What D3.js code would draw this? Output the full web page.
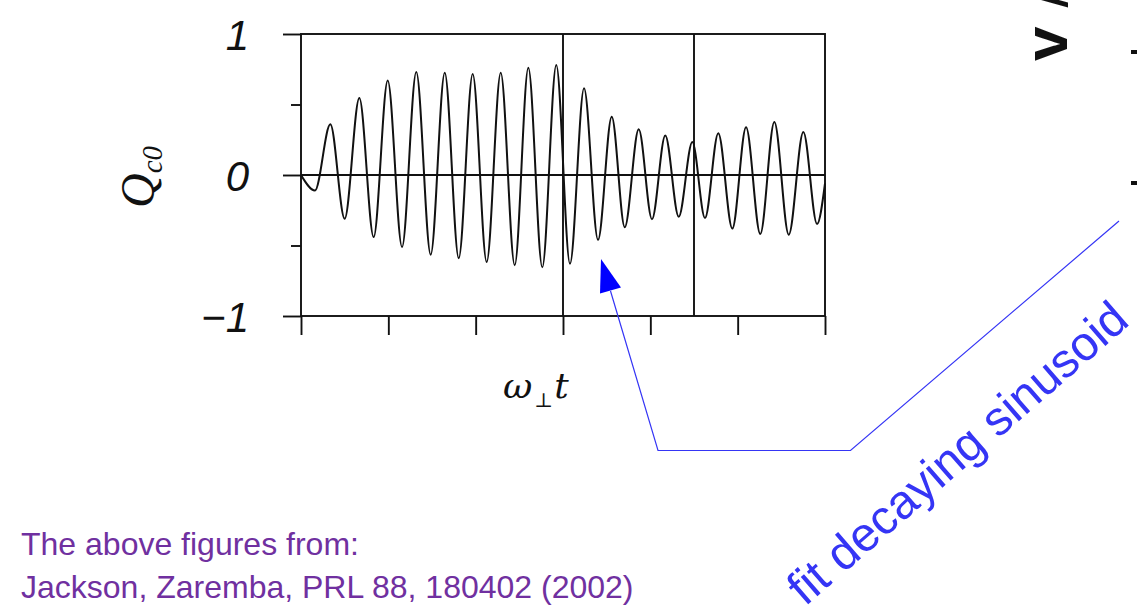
<!DOCTYPE html>
<html>
<head>
<meta charset="utf-8">
<script src="https://cdn.jsdelivr.net/npm/d3@7"></script>
<style>
  body { margin: 0; background: #fff; }
  svg { display: block; }
</style>
</head>
<body>
<div id="chart-area"></div>
<script>
// extrema of Q_c0 (time in tick units, 0..6)
var tPts = [0, 0.16, 0.336, 0.5, 0.668, 0.832, 0.993, 1.157, 1.32, 1.485, 1.646, 1.806, 1.966, 2.126,
  2.287, 2.447, 2.603, 2.763, 2.923, 3.08, 3.241, 3.401, 3.558, 3.707, 3.867, 4.019, 4.171, 4.325,
  4.481, 4.626, 4.778, 4.939, 5.096, 5.259, 5.42, 5.585, 5.752, 5.909, 6]
var qPts = [0, -0.11, 0.36, -0.31, 0.546, -0.44, 0.67, -0.51, 0.73, -0.565, 0.726, -0.59, 0.716, -0.617,
  0.726, -0.64, 0.76, -0.655, 0.78, -0.63, 0.615, -0.46, 0.414, -0.37, 0.324, -0.314, 0.28, -0.296,
  0.234, -0.305, 0.296, -0.38, 0.338, -0.418, 0.376, -0.423, 0.305, -0.348, -0.06]
var xTicks = [0, 1, 2, 3, 4, 5, 6]
var yMajor = [1, 0, -1]
var yMinor = [0.5, -0.5]
var yTickLabels = ["1", "0", "\u22121"]
var markerT = [3, 4.5]

var W = 1137, H = 608
var svg = d3.select("#chart-area").append("svg")
  .attr("width", W).attr("height", H)
svg.append("rect").attr("width", W).attr("height", H).attr("fill", "#fff")

var plot = {left: 301, right: 825, top: 34, bottom: 316}
var x = d3.scaleLinear().domain([0, 6]).range([plot.left, plot.right])
var y = d3.scaleLinear().domain([-1, 1]).range([plot.bottom, plot.top])
var ink = "#111"
var sw = 1.9

// frame
svg.append("rect")
  .attr("x", plot.left).attr("y", plot.top)
  .attr("width", plot.right - plot.left).attr("height", plot.bottom - plot.top)
  .attr("fill", "none").attr("stroke", ink).attr("stroke-width", sw)

// y axis, major ticks with labels
var leftAxis = d3.axisLeft(y).tickValues(yMajor).tickSizeInner(18).tickSizeOuter(0)
  .tickPadding(34).tickFormat((d, i) => yTickLabels[i])
var gy = svg.append("g").attr("transform", `translate(${plot.left},0)`).call(leftAxis)
gy.select(".domain").remove()
gy.selectAll("line").attr("stroke", ink).attr("stroke-width", sw)
gy.selectAll("text")
  .attr("font-family", "Liberation Sans, Arial, sans-serif")
  .attr("font-style", "italic").attr("font-size", "42px").attr("fill", ink)
  .attr("dy", "0.36em")

// minor y ticks
var minorAxis = d3.axisLeft(y).tickValues(yMinor).tickSize(10).tickFormat("")
var gm = svg.append("g").attr("transform", `translate(${plot.left},0)`).call(minorAxis)
gm.select(".domain").remove()
gm.selectAll("line").attr("stroke", ink).attr("stroke-width", sw)

// x axis ticks (no labels)
var bottomAxis = d3.axisBottom(x).tickValues(xTicks).tickSize(19).tickFormat("")
var gx = svg.append("g").attr("transform", `translate(0,${plot.bottom})`).call(bottomAxis)
gx.select(".domain").remove()
gx.selectAll("line").attr("stroke", ink).attr("stroke-width", sw)

// zero line
svg.append("line")
  .attr("x1", plot.left).attr("x2", plot.right)
  .attr("y1", y(0)).attr("y2", y(0))
  .attr("stroke", ink).attr("stroke-width", sw)

// vertical marker lines
svg.selectAll(".marker").data(markerT).enter().append("line")
  .attr("class", "marker")
  .attr("x1", d => x(d)).attr("x2", d => x(d))
  .attr("y1", plot.top).attr("y2", plot.bottom)
  .attr("stroke", ink).attr("stroke-width", sw)

// the signal
var pts = tPts.map((t, i) => [t, qPts[i]])
var line = d3.line().x(d => x(d[0])).y(d => y(d[1])).curve(d3.curveMonotoneX)
svg.append("path").datum(pts)
  .attr("d", line)
  .attr("fill", "none").attr("stroke", ink).attr("stroke-width", 2)

// axis titles
var xl = svg.append("text")
  .attr("x", 503).attr("y", 398)
  .attr("font-family", "DejaVu Serif, serif").attr("font-size", "36px").attr("fill", ink)
xl.append("tspan").attr("font-style", "italic").text("\u03c9")
xl.append("tspan").attr("font-size", "20px").attr("dy", 9).attr("dx", 2).text("\u22a5")
xl.append("tspan").attr("font-style", "italic").attr("dy", -9).attr("dx", 1).text("t")

var yl = svg.append("text")
  .attr("transform", "translate(154,208) rotate(-90)")
  .attr("font-family", "Liberation Serif, serif").attr("font-style", "italic")
  .attr("font-size", "48px").attr("fill", ink)
yl.append("tspan").text("Q")
yl.append("tspan").attr("font-size", "29px").attr("dy", 8).text("c0")

// fragment of the neighbouring figure at the right edge
var frag = svg.append("text")
  .attr("transform", "translate(1067,61) rotate(-90)")
  .attr("font-family", "Liberation Sans, Arial, sans-serif")
  .attr("font-size", "62px").attr("fill", ink).attr("font-weight", "bold")
frag.append("tspan").text("v")
frag.append("tspan").attr("dx", 19).attr("font-weight", "normal").text("/")
svg.selectAll(".edge").data([52, 183]).enter().append("line")
  .attr("class", "edge")
  .attr("x1", 1131).attr("x2", 1137).attr("y1", d => d).attr("y2", d => d)
  .attr("stroke", ink).attr("stroke-width", 4)

// annotation arrow
var blue = "#3535f5"
svg.append("path")
  .attr("d", "M1119,221 L850.5,450.5 L658,450.5 L610.5,291")
  .attr("fill", "none").attr("stroke", blue).attr("stroke-width", 1.2)
svg.append("path")
  .attr("d", "M601,259 L621,287.5 L600,293.5 Z")
  .attr("fill", "#0000ff")

svg.append("text")
  .attr("transform", "translate(805,607) rotate(-41)")
  .attr("font-family", "Liberation Sans, Arial, sans-serif")
  .attr("font-size", "48px").attr("fill", blue)
  .text("fit decaying sinusoid")

// source note
var purple = "#7030a0"
var note = svg.append("text")
  .attr("font-family", "Liberation Sans, Arial, sans-serif")
  .attr("font-size", "32px").attr("fill", purple)
note.append("tspan").attr("x", 21).attr("y", 555).text("The above figures from:")
note.append("tspan").attr("x", 21).attr("y", 598).text("Jackson, Zaremba, PRL 88, 180402 (2002)")
</script>
</body>
</html>
